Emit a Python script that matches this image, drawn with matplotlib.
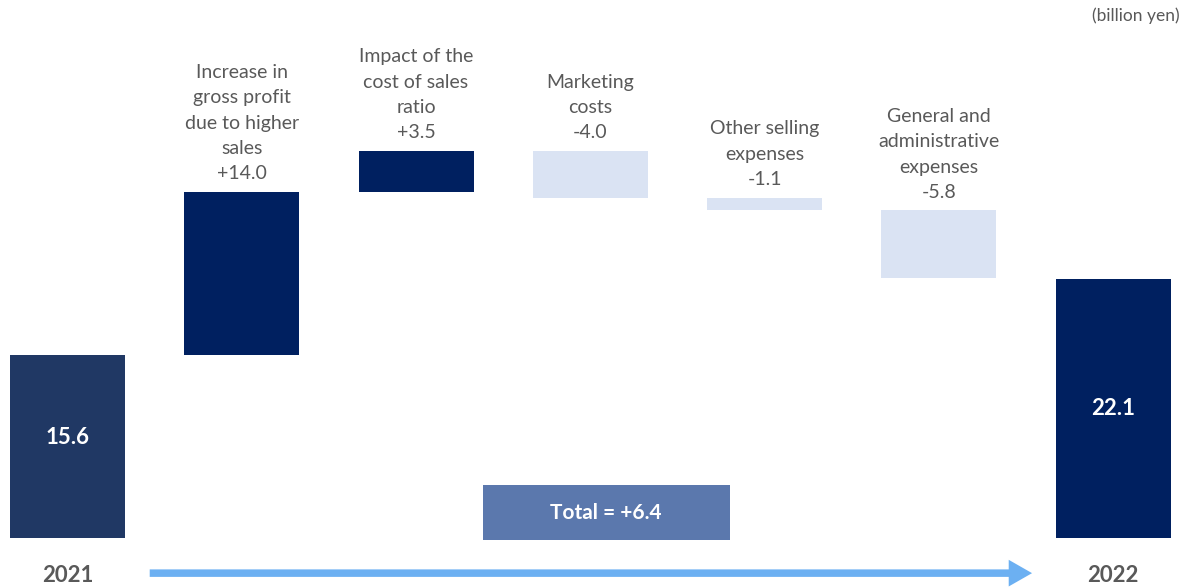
import matplotlib.pyplot as plt
from matplotlib.patches import FancyArrowPatch

# values in billion yen
start_label = "2021"
end_label = "2022"
start_value = 15.6
end_value = 22.1
change_labels = ["Increase in\ngross profit\ndue to higher\nsales",
                 "Impact of the\ncost of sales\nratio",
                 "Marketing\ncosts",
                 "Other selling\nexpenses",
                 "General and\nadministrative\nexpenses"]
change_values = [14.0, 3.5, -4.0, -1.1, -5.8]
total_change = 6.4

plt.rcParams['font.family'] = ['Lato', 'DejaVu Sans']
grey = '#595959'

fig = plt.figure(figsize=(11.91, 5.88), dpi=100)
ax = fig.add_axes([0, 0, 1, 1])
ax.set_xlim(-0.387, 6.446)
ax.set_ylim(-4.27, 45.98)
ax.axis('off')

w = 0.66

# start bar
ax.bar(0, start_value, width=w, color='#203864')
ax.text(0, start_value / 2 + 0.8, f"{start_value:.1f}", color='white',
        fontsize=16, fontweight='bold', ha='center', va='center')

# change bars
level = start_value
for i, (lab, v) in enumerate(zip(change_labels, change_values)):
    x = i + 1
    bottom = level if v > 0 else level + v
    color = '#002060' if v > 0 else '#dae3f3'
    ax.bar(x, abs(v), bottom=bottom, width=w, color=color)
    top = bottom + abs(v)
    ax.text(x, top + 0.8, f"{lab}\n{v:+.1f}", color=grey, fontsize=14,
            ha='center', va='bottom', linespacing=1.6)
    level += v

# end bar
n = len(change_values) + 1
ax.bar(n, end_value, width=w, color='#002060')
ax.text(n, end_value / 2, f"{end_value:.1f}", color='white',
        fontsize=16, fontweight='bold', ha='center', va='center')

# total box
ax.bar(3.09, 4.7, bottom=-0.17, width=1.417, color='#5b78ad')
ax.text(3.09, 2.18, f"Total = {total_change:+.1f}", color='white',
        fontsize=15, fontweight='bold', ha='center', va='center')

# arrow between the years
arrow = FancyArrowPatch((0.456, -3.0), (5.55, -3.0), arrowstyle='simple,head_width=1.6,head_length=1.4,tail_width=0.45',
                        mutation_scale=12, color='#6cb0f2', lw=0)
ax.add_patch(arrow)

ax.text(0, -3.2, start_label, color=grey, fontsize=16, fontweight='bold',
        ha='center', va='center')
ax.text(n, -3.2, end_label, color=grey, fontsize=16, fontweight='bold',
        ha='center', va='center')

ax.text(6.383, 44.6, "(billion yen)", color=grey, fontsize=12.5,
        ha='right', va='center')

fig.savefig('out.png', dpi=100)
